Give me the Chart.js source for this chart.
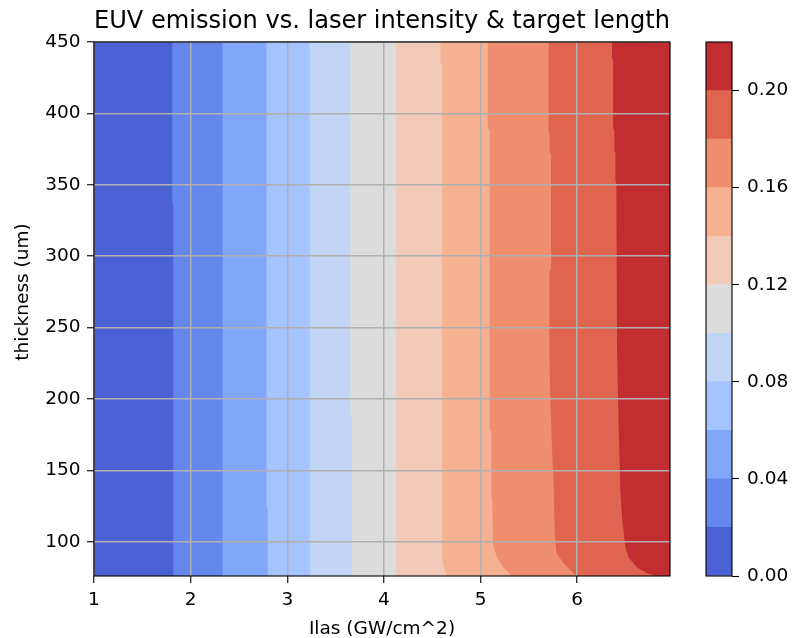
<!DOCTYPE html>
<html>
<head>
<meta charset="utf-8">
<script src="https://cdn.jsdelivr.net/npm/chart.js@4.4.0/dist/chart.umd.min.js"></script>
<style>
html,body{margin:0;padding:0;background:#ffffff;}
#wrap{position:relative;width:792px;height:638px;overflow:hidden;}
#main{position:absolute;left:0;top:0;}
#cbar{position:absolute;left:690px;top:0;}
</style>
</head>
<body>
<div id="wrap">
<canvas id="main" width="792" height="638"></canvas>
<canvas id="cbar" width="102" height="638"></canvas>
</div>
<script>
// ---- data ----
const levels = [0.00,0.02,0.04,0.06,0.08,0.10,0.12,0.14,0.16,0.18,0.20,0.22];
const bandColors = ['#4a60d3','#6586eb','#82a6fa','#a5c3fe','#c2d5f4','#dcdcdc',
                    '#f2cbb8','#f6b193','#f08e70','#df6550','#c22d32'];
const xTicks = [1,2,3,4,5,6];
const yTicks = [100,150,200,250,300,350,400,450];
const cbarTicks = [0.00,0.04,0.08,0.12,0.16,0.20];
const ilasRange = [1, 6.96];     // GW/cm^2
const thickRange = [76, 450];    // um

// contour lines [ilas, thickness] from top to bottom, one per level
const c000 = [[1,450],[1,76]];
const c002 = [[1.81,450],[1.81,339],[1.82,335],[1.82,76]];
const c004 = [[2.33,450],[2.33,76]];
const c006 = [[2.784,450],[2.784,125],[2.798,122],[2.798,76]];
const c008 = [[3.232,450],[3.232,76]];
const c010 = [[3.653,450],[3.653,190],[3.671,187],[3.671,76]];
const c012 = [[4.12,450],[4.12,76]];
const c014 = [[4.584,450],[4.584,436],[4.602,434],[4.602,89],[4.615,84],[4.636,79],[4.65,76]];
const c016 = [[5.074,450],[5.074,390],[5.094,388],[5.094,179],[5.109,177],[5.109,132],[5.119,130],
              [5.13,100],[5.136,96],[5.171,89],[5.236,82],[5.326,76]];
const c018 = [[5.705,450],[5.705,387],[5.715,385],[5.715,373],[5.729,371],[5.729,291],[5.712,289],
              [5.712,234],[5.722,199],[5.740,164],[5.756,141],[5.767,106],[5.784,92],[5.860,85],
              [5.963,78],[6.0,76]];
const c020 = [[6.36,450],[6.36,439],[6.371,437],[6.371,390],[6.384,388],[6.384,374],[6.395,372],
              [6.395,353],[6.405,351],[6.412,234],[6.429,180],[6.446,136],[6.464,117],[6.498,96],
              [6.532,89],[6.619,82],[6.722,78],[6.826,76]];
const contours = [c000,c002,c004,c006,c008,c010,c012,c014,c016,c018,c020];

// ---- chart ----
const FONT = 'DejaVu Sans';
const tickFont = {family: FONT, size: 18.5};
const GRID = '#b0b0b0';

const bandDatasets = contours.map((line, i) => {
  const pts = line.map(p => ({x: p[0], y: p[1]}));
  pts.push({x: ilasRange[1], y: thickRange[0]});
  pts.push({x: ilasRange[1], y: thickRange[1]});
  return {
    label: levels[i].toFixed(2) + '-' + levels[i+1].toFixed(2),
    data: pts,
    showLine: true,
    fill: 'shape',
    backgroundColor: bandColors[i],
    borderColor: bandColors[i],
    borderWidth: 0,
    pointRadius: 0,
    pointHoverRadius: 0,
    tension: 0,
    order: 100 - i
  };
});

const spines = {
  id: 'spines',
  afterDraw(chart) {
    const a = chart.chartArea, ctx = chart.ctx;
    ctx.save();
    ctx.strokeStyle = '#000';
    ctx.lineWidth = 1.1;
    ctx.strokeRect(a.left, a.top, a.right - a.left, a.bottom - a.top);
    ctx.restore();
  }
};

const yLabel = {
  id: 'yLabel',
  afterDraw(chart) {
    const ctx = chart.ctx;
    ctx.save();
    ctx.translate(23, 292);
    ctx.rotate(-Math.PI / 2);
    ctx.font = '18.5px "' + FONT + '"';
    ctx.fillStyle = '#000';
    ctx.textAlign = 'center';
    ctx.textBaseline = 'middle';
    ctx.fillText('thickness (um)', 0, 0);
    ctx.restore();
  }
};

new Chart(document.getElementById('main'), {
  type: 'scatter',
  data: {datasets: bandDatasets},
  plugins: [spines, yLabel],
  options: {
    responsive: false,
    animation: false,
    devicePixelRatio: 1,
    layout: {padding: {left: 0, right: 122, top: 0, bottom: 0}},
    plugins: {
      legend: {display: false},
      tooltip: {enabled: false},
      title: {
        display: true,
        text: 'EUV emission vs. laser intensity & target length',
        fullSize: false,
        color: '#000',
        font: {family: FONT, size: 24.1, weight: 'normal'},
        padding: {top: 7, bottom: 6.1}
      }
    },
    scales: {
      x: {
        type: 'linear',
        min: ilasRange[0], max: ilasRange[1],
        afterBuildTicks: s => { s.ticks = xTicks.map(v => ({value: v})); },
        afterFit: s => { s.height = 62; },
        grid: {z: 1, color: GRID, lineWidth: 1.5, tickColor: '#000', tickLength: 7, tickWidth: 1.1},
        border: {display: false},
        ticks: {color: '#000', font: tickFont, padding: 6, maxRotation: 0, callback: v => String(v)},
        title: {display: true, text: 'Ilas (GW/cm^2)', color: '#000',
                font: {family: FONT, size: 18.5, lineHeight: 1.0}, padding: {top: 0, bottom: 0}}
      },
      y: {
        type: 'linear',
        min: thickRange[0], max: thickRange[1],
        afterBuildTicks: s => { s.ticks = yTicks.map(v => ({value: v})); },
        afterFit: s => { s.width = 94; },
        grid: {z: 1, color: GRID, lineWidth: 1.5, tickColor: '#000', tickLength: 7, tickWidth: 1.1},
        border: {display: false},
        ticks: {color: '#000', font: tickFont, padding: 6.5, callback: v => String(v)}
      }
    }
  }
});

// ---- colorbar ----
new Chart(document.getElementById('cbar'), {
  type: 'bar',
  data: {
    labels: [''],
    datasets: bandColors.map((c, i) => ({
      data: [levels[i+1] - levels[i]],
      backgroundColor: c,
      borderWidth: 0,
      barPercentage: 1,
      categoryPercentage: 1,
      stack: 'cb'
    }))
  },
  plugins: [spines],
  options: {
    responsive: false,
    animation: false,
    devicePixelRatio: 1,
    layout: {padding: {left: 16, right: 0, top: 42, bottom: 62}},
    plugins: {legend: {display: false}, tooltip: {enabled: false}, title: {display: false}},
    scales: {
      x: {display: false, stacked: true},
      y: {
        stacked: true,
        position: 'right',
        min: levels[0], max: levels[levels.length - 1],
        afterBuildTicks: s => { s.ticks = cbarTicks.map(v => ({value: v})); },
        afterFit: s => { s.width = 60; },
        grid: {drawOnChartArea: false, tickColor: '#000', tickLength: 7, tickWidth: 1.1},
        border: {display: false},
        ticks: {color: '#000', font: tickFont, padding: 8, callback: v => Number(v).toFixed(2)}
      }
    }
  }
});
</script>
</body>
</html>
